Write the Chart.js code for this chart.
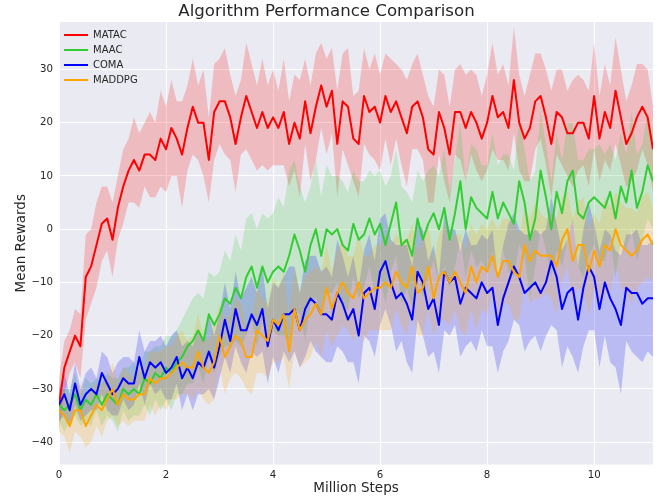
<!DOCTYPE html>
<html>
<head>
<meta charset="utf-8">
<title>Algorithm Performance Comparison</title>
<script src="https://cdn.jsdelivr.net/npm/chart.js@4.4.0/dist/chart.umd.min.js"></script>
<style>
    html, body { margin: 0; padding: 0; background: #ffffff; }
    #wrap { width: 662px; height: 498px; }
</style>
</head>
<body>
<div id="wrap"><canvas id="perfChart" width="662" height="498"></canvas></div>
<script>
// Sampling grid (million steps)
const steps = [
    0.0, 0.1, 0.2, 0.3, 0.4, 0.5, 0.6, 0.7, 0.8, 0.9,
    1.0, 1.1, 1.2, 1.3, 1.4, 1.5, 1.6, 1.7, 1.8, 1.9,
    2.0, 2.1, 2.2, 2.3, 2.4, 2.5, 2.6, 2.7, 2.8, 2.9,
    3.0, 3.1, 3.2, 3.3, 3.4, 3.5, 3.6, 3.7, 3.8, 3.9,
    4.0, 4.1, 4.2, 4.3, 4.4, 4.5, 4.6, 4.7, 4.8, 4.9,
    5.0, 5.1, 5.2, 5.3, 5.4, 5.5, 5.6, 5.7, 5.8, 5.9,
    6.0, 6.1, 6.2, 6.3, 6.4, 6.5, 6.6, 6.7, 6.8, 6.9,
    7.0, 7.1, 7.2, 7.3, 7.4, 7.5, 7.6, 7.7, 7.8, 7.9,
    8.0, 8.1, 8.2, 8.3, 8.4, 8.5, 8.6, 8.7, 8.8, 8.9,
    9.0, 9.1, 9.2, 9.3, 9.4, 9.5, 9.6, 9.7, 9.8, 9.9,
    10.0, 10.1, 10.2, 10.3, 10.4, 10.5, 10.6, 10.7, 10.8, 10.9,
    11.0, 11.1
];

const names = ['MATAC', 'MAAC', 'COMA', 'MADDPG'];

// Mean rewards
const matacMean = [
    -33, -26, -23, -20, -22, -9, -7, -3, 1, 2,
    -2, 4, 8, 11, 13, 11, 14, 14, 13, 17,
    15, 19, 17, 14, 19, 23, 20, 20, 13, 22,
    24, 24, 21, 16, 21, 25, 22, 19, 22, 19,
    21, 19, 22, 16, 20, 17, 24, 18, 23, 27,
    23, 26, 16, 24, 23, 17, 16, 25, 22, 23,
    20, 25, 22, 24, 21, 18, 23, 24, 21, 15,
    14, 22, 19, 14, 22, 22, 19, 22, 20, 17,
    20, 25, 21, 22, 19, 28, 20, 17, 19, 24,
    25, 21, 16, 22, 21, 18, 18, 20, 20, 17,
    25, 17, 22, 19, 26, 21, 16, 18, 21, 23,
    21, 15
];
const maacMean = [
    -33, -34, -33, -31, -34, -32, -33, -31, -33, -31,
    -32, -33, -30, -31, -30, -31, -28, -29, -27, -28,
    -26, -27, -25, -24, -22, -21, -19, -21, -16, -18,
    -16, -13, -14, -11, -13, -9, -7, -11, -7, -10,
    -8, -7, -8, -5, -1, -4, -8, -3, 0, -5,
    0, -1, 0, -3, -4, 1, -2, -1, 2, -1,
    1, -3, 1, 5, -3, -2, -5, 2, -2, 1,
    3, 0, 4, -2, 3, 9, 0, 6, 4, 3,
    2, 7, 2, 5, 3, 1, 9, 5, -2, 2,
    11, 6, 0, 7, 3, 9, 11, 3, 2, 5,
    6, 5, 4, 7, 2, 8, 5, 11, 4, 7,
    12, 9
];
const comaMean = [
    -33, -31, -34, -29, -33, -31, -30, -31, -27, -29,
    -31, -30, -28, -29, -29, -24, -28, -25, -26, -25,
    -27, -26, -24, -28, -26, -28, -25, -26, -23, -26,
    -22, -17, -21, -15, -19, -19, -16, -18, -15, -22,
    -17, -19, -16, -16, -15, -19, -15, -13, -14, -16,
    -16, -17, -12, -14, -17, -15, -20, -12, -11, -15,
    -8, -6, -10, -13, -12, -14, -17, -8, -10, -15,
    -13, -18, -8, -10, -9, -14, -11, -12, -13, -10,
    -12, -11, -18, -13, -10, -7, -9, -12, -11, -10,
    -12, -10, -6, -9, -15, -12, -11, -17, -11, -7,
    -9, -15, -10, -13, -15, -18, -11, -12, -12, -14,
    -13, -13
];
const maddpgMean = [
    -34, -35, -37, -34, -34, -37, -35, -33, -34, -32,
    -30, -33, -31, -32, -32, -31, -31, -28, -29, -28,
    -28, -27, -26, -25, -26, -26, -23, -26, -27, -25,
    -20, -24, -22, -20, -21, -24, -24, -19, -20, -21,
    -17, -18, -16, -23, -15, -19, -17, -16, -14, -16,
    -11, -15, -12, -10, -12, -13, -10, -13, -12, -11,
    -11, -10, -11, -8, -10, -11, -7, -12, -11, -7,
    -13, -9, -8, -10, -8, -10, -12, -7, -10, -7,
    -8, -5, -9, -6, -6, -8, -9, -3, -6, -4,
    -5, -5, -5, -7, -2, 0, -6, -3, -3, -8,
    -4, -7, -3, -4, 0, -3, -4, -5, -4, -2,
    -1, -3
];

// Spread (half-width of shaded band)
const matacStd = [
    5, 5, 4, 5, 6, 8, 7, 8, 7, 6,
    7, 6, 7, 6, 8, 7, 6, 8, 7, 9,
    8, 9, 7, 10, 8, 9, 7, 10, 8, 9,
    8, 10, 8, 9, 7, 10, 9, 8, 10, 8,
    9, 7, 10, 8, 9, 11, 8, 9, 10, 8,
    9, 8, 10, 9, 11, 8, 10, 9, 8, 10,
    9, 8, 10, 7, 9, 10, 8, 9, 8, 10,
    9, 8, 10, 9, 8, 9, 10, 8, 9, 8,
    9, 10, 8, 9, 8, 10, 9, 8, 10, 9,
    8, 9, 10, 8, 9, 8, 10, 9, 8, 9,
    10, 8, 9, 8, 10, 9, 8, 9, 10, 8,
    9, 8
];
const maacStd = [
    3, 4, 3, 4, 3, 4, 4, 3, 4, 4,
    4, 5, 4, 5, 5, 4, 5, 6, 5, 6,
    6, 7, 6, 7, 7, 8, 7, 8, 8, 9,
    8, 9, 8, 10, 9, 11, 10, 11, 10, 12,
    11, 13, 12, 16, 14, 12, 13, 11, 13, 11,
    12, 11, 10, 12, 11, 10, 11, 10, 9, 11,
    10, 11, 9, 10, 11, 9, 10, 9, 11, 10,
    9, 10, 11, 9, 10, 11, 9, 10, 11, 9,
    10, 11, 10, 9, 11, 10, 12, 10, 11, 9,
    11, 10, 9, 11, 10, 11, 9, 10, 11, 10,
    9, 11, 10, 9, 11, 10, 9, 11, 10, 9,
    10, 9
];
const comaStd = [
    3, 4, 3, 4, 3, 4, 4, 3, 4, 5,
    4, 5, 4, 5, 4, 5, 5, 4, 5, 5,
    5, 6, 5, 6, 5, 6, 6, 5, 7, 6,
    6, 7, 6, 7, 6, 8, 7, 6, 8, 7,
    7, 8, 7, 9, 8, 7, 9, 8, 9, 8,
    9, 8, 10, 9, 8, 10, 9, 8, 10, 9,
    10, 9, 8, 10, 9, 11, 10, 9, 10, 9,
    10, 9, 11, 10, 9, 10, 11, 9, 10, 9,
    10, 11, 9, 10, 11, 10, 9, 11, 10, 10,
    11, 10, 12, 10, 11, 10, 13, 10, 11, 12,
    10, 11, 10, 12, 11, 13, 10, 11, 12, 11,
    10, 11
];
const maddpgStd = [
    4, 4, 5, 4, 5, 4, 5, 4, 5, 4,
    5, 4, 5, 5, 4, 5, 5, 5, 6, 5,
    6, 5, 6, 6, 5, 6, 7, 6, 6, 7,
    6, 7, 6, 7, 7, 6, 7, 8, 7, 7,
    8, 7, 8, 7, 8, 7, 8, 8, 7, 8,
    8, 7, 8, 8, 7, 8, 9, 8, 7, 8,
    8, 9, 8, 7, 8, 9, 8, 8, 9, 8,
    7, 8, 9, 8, 7, 9, 8, 8, 9, 8,
    8, 7, 9, 8, 8, 9, 8, 7, 8, 9,
    8, 7, 8, 9, 8, 7, 8, 8, 9, 8,
    7, 8, 9, 8, 7, 8, 8, 9, 7, 8,
    8, 7
];

const xTicks = [0, 2, 4, 6, 8, 10];
const yTicks = [-40, -30, -20, -10, 0, 10, 20, 30];

const FONT = "'DejaVu Sans', sans-serif";
const TEXT = '#262626';

const series = [
    { name: names[0], mean: matacMean, std: matacStd, color: '#ff0000', band: 'rgba(255, 0, 0, 0.2)' },
    { name: names[1], mean: maacMean, std: maacStd, color: '#32cd32', band: 'rgba(50, 205, 50, 0.2)' },
    { name: names[2], mean: comaMean, std: comaStd, color: '#0000ff', band: 'rgba(0, 0, 255, 0.2)' },
    { name: names[3], mean: maddpgMean, std: maddpgStd, color: '#ffa500', band: 'rgba(255, 165, 0, 0.2)' }
];

const toPoints = (vals) => vals.map((v, i) => ({ x: steps[i], y: v }));

const datasets = [];
// Mean lines (lower order = drawn on top)
series.forEach((s, i) => {
    datasets.push({
        label: s.name,
        data: toPoints(s.mean),
        borderColor: s.color,
        backgroundColor: s.color,
        borderWidth: 2,
        borderJoinStyle: 'round',
        pointRadius: 0,
        tension: 0,
        fill: false,
        order: 3 - i
    });
});
// Shaded bands (upper edge, then lower edge filled to it)
series.forEach((s, i) => {
    datasets.push({
        label: '',
        data: toPoints(s.mean.map((m, k) => m + s.std[k])),
        borderWidth: 0,
        borderColor: 'rgba(0,0,0,0)',
        pointRadius: 0,
        tension: 0,
        fill: false,
        order: 20 - i
    });
    datasets.push({
        label: '',
        data: toPoints(s.mean.map((m, k) => m - s.std[k])),
        borderWidth: 0,
        borderColor: 'rgba(0,0,0,0)',
        backgroundColor: s.band,
        pointRadius: 0,
        tension: 0,
        fill: '-1',
        order: 20 - i
    });
});

const plotBg = {
    id: 'plotBg',
    beforeDraw(chart) {
        const { ctx, chartArea: a } = chart;
        ctx.save();
        ctx.fillStyle = '#eaeaf2';
        ctx.fillRect(a.left, a.top, a.right - a.left, a.bottom - a.top);
        ctx.restore();
    }
};

const fmt = (v) => (v < 0 ? '\u2212' + Math.abs(v) : String(v));

new Chart(document.getElementById('perfChart'), {
    type: 'line',
    data: { datasets },
    options: {
        responsive: false,
        animation: false,
        devicePixelRatio: 1,
        layout: { padding: { left: 0, right: 9, top: 0, bottom: 0 } },
        scales: {
            x: {
                type: 'linear',
                min: 0,
                max: 11.1,
                afterFit: (s) => { s.height = 33.5; },
                afterBuildTicks: (s) => { s.ticks = xTicks.map(v => ({ value: v })); },
                ticks: { padding: 5, color: TEXT, font: { family: FONT, size: 10.2 }, callback: (v) => fmt(v) },
                grid: { color: '#ffffff', lineWidth: 1, drawTicks: false },
                border: { display: false },
                title: { display: true, text: 'Million Steps', color: TEXT, font: { family: FONT, size: 13.5 }, padding: { top: 0, bottom: 1 } }
            },
            y: {
                min: -44.2,
                max: 38.9,
                afterFit: (s) => { s.width = 59; },
                afterBuildTicks: (s) => { s.ticks = yTicks.map(v => ({ value: v })); },
                ticks: { padding: 6, color: TEXT, font: { family: FONT, size: 10.2 }, callback: (v) => fmt(v) },
                grid: { color: '#ffffff', lineWidth: 1, drawTicks: false },
                border: { display: false },
                title: { display: true, text: 'Mean Rewards', color: TEXT, font: { family: FONT, size: 13.5 }, padding: { top: 13.4, bottom: 0 } }
            }
        },
        plugins: {
            title: {
                display: true,
                text: 'Algorithm Performance Comparison',
                color: TEXT,
                font: { family: FONT, size: 16.6, weight: 'normal' },
                padding: { top: 2, bottom: 0.1 }
            },
            legend: {
                position: 'chartArea',
                align: 'start',
                // empty title only pushes the entries down inside the plot area
                title: { display: true, text: ' ', font: { family: FONT, size: 10 }, padding: { top: 13, bottom: 0 } },
                labels: {
                    usePointStyle: true,
                    pointStyle: 'line',
                    pointStyleWidth: 24,
                    padding: 5,
                    color: TEXT,
                    font: { family: FONT, size: 10 },
                    filter: (item) => item.text !== '',
                    sort: (a, b) => a.datasetIndex - b.datasetIndex
                }
            },
            tooltip: { enabled: false }
        }
    },
    plugins: [plotBg]
});
</script>
</body>
</html>
